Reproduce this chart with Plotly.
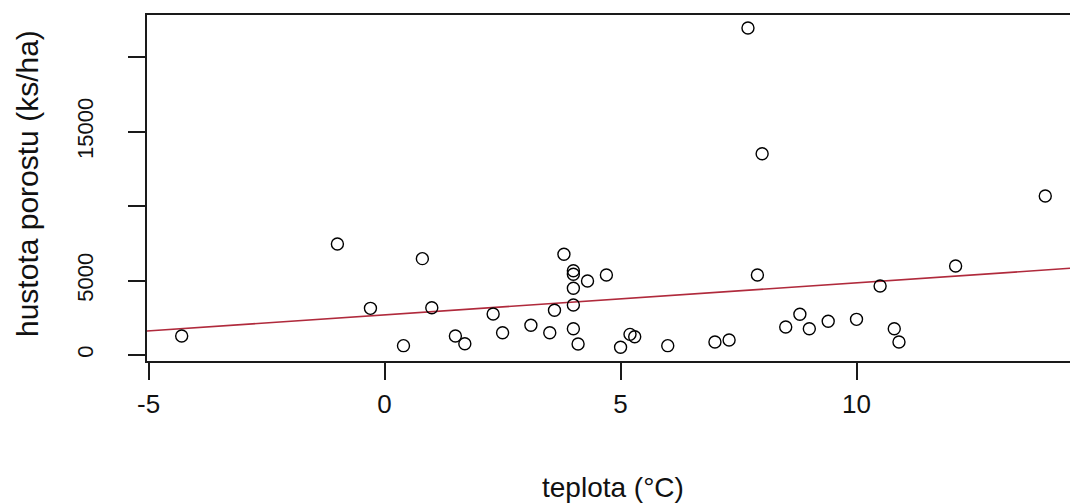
import plotly.graph_objects as go

# ---- data ----
teplota = [-4.3, -1.0, 0.8, -0.3, 1.0, 0.4, 1.5, 1.7, 2.3, 2.5, 3.1, 3.5, 3.6, 3.8,
           4.0, 4.0, 4.3, 4.7, 4.0, 4.0, 4.0, 4.1, 5.0, 5.2, 5.3, 6.0, 7.0, 7.3,
           7.9, 8.5, 8.8, 9.0, 9.4, 10.0, 10.5, 10.8, 10.9, 12.1, 7.7, 8.0, 14.0]
hustota = [1270, 7450, 6470, 3130, 3170, 620, 1270, 750, 2750, 1490, 1990, 1490, 3000, 6760,
           5660, 5420, 4970, 5370, 4480, 3350, 1760, 730, 510, 1380, 1220, 620, 870, 1000,
           5370, 1880, 2730, 1760, 2260, 2390, 4630, 1760, 870, 5970, 21970, 13520, 10680]

# regression line (abline) coefficients
intercept = 2690
slope = 215.5

x_ticks = [-5, 0, 5, 10]
x_ticklabels = ["-5", "0", "5", "10"]
y_ticks = [0, 5000, 10000, 15000, 20000]
y_ticklabels = ["0", "5000", "", "15000", ""]

x_title = "teplota (°C)"
y_title = "hustota porostu (ks/ha)"

x_range = [-5.035, 14.524]
y_range = [-410, 22843]

FONT = "Liberation Sans, Arial, sans-serif"

fig = go.Figure()

line_x = x_range
line_y = [intercept + slope * v for v in line_x]
fig.add_trace(go.Scatter(x=line_x, y=line_y, mode="lines",
                         line=dict(color="#B02A3C", width=1.6),
                         hoverinfo="skip", showlegend=False))

fig.add_trace(go.Scatter(x=teplota, y=hustota, mode="markers",
                         marker=dict(symbol="circle-open", size=12, color="black",
                                     line=dict(width=1.4)),
                         showlegend=False))

fig.update_layout(
    width=1070, height=504,
    margin=dict(l=147, r=0, t=15, b=143, pad=0),
    paper_bgcolor="white", plot_bgcolor="white",
    font=dict(family=FONT, color="black"),
    showlegend=False,
    xaxis=dict(range=x_range, tickvals=x_ticks, ticktext=x_ticklabels,
               showgrid=False, zeroline=False,
               showline=True, mirror=True, linecolor="#1a1a1a", linewidth=1.5,
               ticks="outside", ticklen=17, tickwidth=1.5, tickcolor="#1a1a1a",
               tickfont=dict(size=26, family=FONT, color="#111"),
               ticklabelstandoff=2),
    yaxis=dict(range=y_range, tickvals=y_ticks, ticktext=y_ticklabels,
               showgrid=False, zeroline=False,
               showline=True, mirror=False, linecolor="#1a1a1a", linewidth=1.5,
               ticks="outside", ticklen=17, tickwidth=1.5, tickcolor="#1a1a1a",
               tickangle=-90,
               tickfont=dict(size=22, family=FONT, color="#111"),
               ticklabelstandoff=26),
)

fig.add_annotation(x=(x_range[0] + 14.7) / 2, xref="x", y=(361 - 488) / 346, yref="paper",
                   text=x_title, showarrow=False, xanchor="center", yanchor="middle",
                   font=dict(size=28, family=FONT, color="#111"))
fig.add_annotation(x=(27 - 147) / 923, xref="paper", y=(361 - 184) / 346, yref="paper",
                   text=y_title, showarrow=False, textangle=-90,
                   xanchor="center", yanchor="middle",
                   font=dict(size=30, family=FONT, color="#111"))

fig.write_html("out.html", config={"displayModeBar": False},
               post_script="document.body.style.margin='0';document.body.style.overflow='hidden';")
